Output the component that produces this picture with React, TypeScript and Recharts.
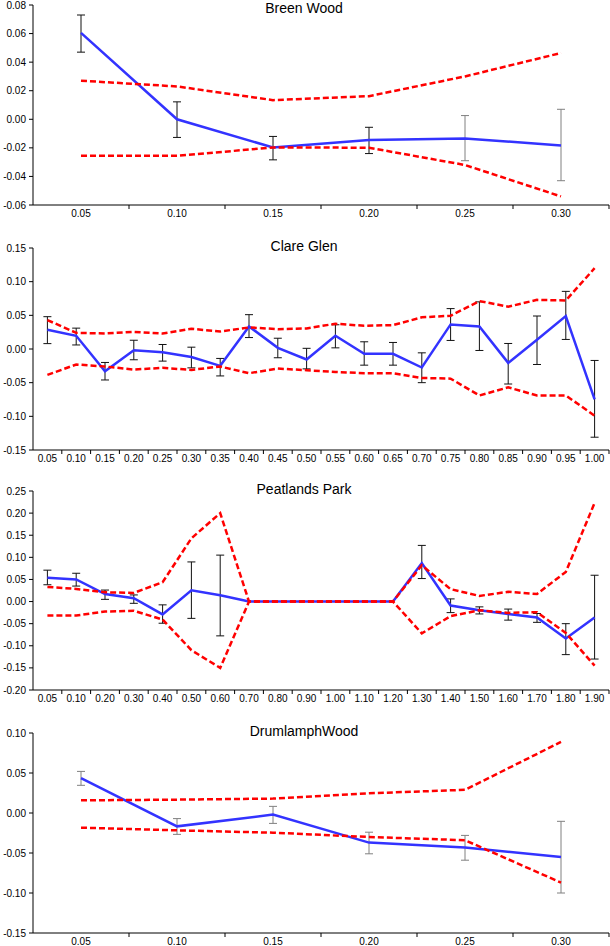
import React from 'react';
import { LineChart, Line, XAxis, YAxis, ErrorBar } from 'recharts';

// Breen Wood
const breenCats = ['0.05', '0.10', '0.15', '0.20', '0.25', '0.30'];
const breenMean = [0.0605, 0.0, -0.0197, -0.0145, -0.0134, -0.0183];
const breenErrLow = [0.047, -0.0127, -0.0284, -0.024, -0.029, -0.043];
const breenErrHigh = [0.073, 0.0122, -0.012, -0.0056, 0.0026, 0.007];
const breenUpper = [0.027, 0.023, 0.0134, 0.0162, 0.03, 0.0464];
const breenLower = [-0.0256, -0.0256, -0.0197, -0.0199, -0.032, -0.054];
const breenTone = ['k', 'k', 'k', 'k', 'g', 'g'];
const breenYTicks = [-0.06, -0.04, -0.02, 0, 0.02, 0.04, 0.06, 0.08];

// Clare Glen
const clareCats = ['0.05', '0.10', '0.15', '0.20', '0.25', '0.30', '0.35', '0.40', '0.45', '0.50',
  '0.55', '0.60', '0.65', '0.70', '0.75', '0.80', '0.85', '0.90', '0.95', '1.00'];
const clareMean = [0.0285, 0.0196, -0.033, -0.002, -0.005, -0.012, -0.025, 0.0335, 0.0017, -0.0156,
  0.0196, -0.0072, -0.0072, -0.0275, 0.0365, 0.0335, -0.0206, 0.0136, 0.049, -0.0747];
const clareErrLow = [0.008, 0.006, -0.046, -0.016, -0.018, -0.028, -0.04, 0.017, -0.013, -0.0295,
  0.0017, -0.024, -0.024, -0.05, 0.0127, -0.0022, -0.052, -0.023, 0.0142, -0.131];
const clareErrHigh = [0.048, 0.031, -0.02, 0.013, 0.0067, 0.0027, -0.014, 0.051, 0.016, 0.001,
  0.036, 0.0107, 0.0097, -0.0057, 0.06, 0.07, 0.0082, 0.049, 0.0856, -0.017];
const clareUpper = [0.043, 0.024, 0.023, 0.0255, 0.023, 0.03, 0.026, 0.032, 0.0295, 0.0305,
  0.0375, 0.0345, 0.0355, 0.047, 0.0494, 0.0712, 0.0628, 0.073, 0.072, 0.12];
const clareLower = [-0.0385, -0.023, -0.026, -0.0305, -0.028, -0.031, -0.026, -0.036, -0.029, -0.0315,
  -0.034, -0.036, -0.036, -0.043, -0.044, -0.069, -0.057, -0.069, -0.069, -0.099];
const clareTone = clareCats.map(() => 'k');
const clareYTicks = [-0.15, -0.1, -0.05, 0, 0.05, 0.1, 0.15];

// Peatlands Park
const peatCats = ['0.05', '0.10', '0.20', '0.30', '0.40', '0.50', '0.60', '0.70', '0.80', '0.90',
  '1.00', '1.10', '1.20', '1.30', '1.40', '1.50', '1.60', '1.70', '1.80', '1.90'];
const peatMean = [0.054, 0.05, 0.017, 0.0075, -0.029, 0.0256, 0.0143, 0, 0, 0,
  0, 0, 0, 0.087, -0.009, -0.0196, -0.028, -0.036, -0.0836, -0.036];
const peatErrLow = [0.038, 0.035, 0.005, -0.004, -0.049, -0.038, -0.0776, null, null, null,
  null, null, null, 0.052, -0.025, -0.028, -0.042, -0.047, -0.12, -0.13];
const peatErrHigh = [0.071, 0.064, 0.026, 0.015, -0.0075, 0.0896, 0.105, null, null, null,
  null, null, null, 0.127, 0.006, -0.012, -0.017, -0.027, -0.05, 0.0595];
const peatUpper = [0.033, 0.0286, 0.021, 0.0196, 0.0437, 0.143, 0.2, 0, 0, 0,
  0, 0, 0, 0.082, 0.028, 0.0128, 0.022, 0.017, 0.067, 0.223];
const peatLower = [-0.0316, -0.0316, -0.0226, -0.021, -0.0407, -0.11, -0.15, 0, 0, 0,
  0, 0, 0, -0.072, -0.033, -0.0196, -0.0256, -0.024, -0.0708, -0.145];
const peatTone = peatCats.map(() => 'k');
const peatYTicks = [-0.2, -0.15, -0.1, -0.05, 0, 0.05, 0.1, 0.15, 0.2, 0.25];

// Drumlamph Wood
const drumCats = ['0.05', '0.10', '0.15', '0.20', '0.25', '0.30'];
const drumMean = [0.0437, -0.0167, -0.002, -0.037, -0.043, -0.055];
const drumErrLow = [0.0346, -0.0267, -0.013, -0.051, -0.059, -0.1];
const drumErrHigh = [0.052, -0.007, 0.0083, -0.024, -0.028, -0.0104];
const drumUpper = [0.0158, 0.0167, 0.018, 0.0246, 0.029, 0.0888];
const drumLower = [-0.0183, -0.0217, -0.0246, -0.03, -0.034, -0.087];
const drumTone = drumCats.map(() => 'g');
const drumYTicks = [-0.15, -0.1, -0.05, 0, 0.05, 0.1];

const FONT = 'Arial, "Liberation Sans", sans-serif';
const PLOT_W = 576;

function buildRows(cats, mean, lo, hi, upper, lower, tone) {
  return cats.map((cat, i) => {
    const err = lo[i] == null ? null : [mean[i] - lo[i], hi[i] - mean[i]];
    return {
      cat,
      mean: mean[i],
      upper: upper[i],
      lower: lower[i],
      errDark: tone[i] === 'k' ? err : null,
      errGrey: tone[i] === 'g' ? err : null,
    };
  });
}

function Panel({ top, plotH, title, titleTop = 3, rows, yTicks }) {
  const band = PLOT_W / rows.length;
  const renderTick = (props) => {
    const { x, y, payload } = props;
    return (
      <g>
        <line x1={x + band / 2} x2={x + band / 2} y1={y} y2={y + 4} stroke="#000" />
        <text x={x} y={y + 11.5} textAnchor="middle" fontSize={10} fill="#000" fontFamily={FONT}>
          {payload.value}
        </text>
      </g>
    );
  };
  return (
    <div style={{ position: 'absolute', left: 0, top, width: 610, height: plotH + 20 }}>
      <LineChart width={610} height={plotH + 20} data={rows} margin={{ top: 5, right: 1, bottom: 0, left: 0 }}>
        <XAxis
          dataKey="cat"
          scale="band"
          interval={0}
          tickSize={0}
          tickMargin={0}
          tickLine={false}
          tick={renderTick}
          stroke="#000"
          height={15}
        />
        <YAxis
          type="number"
          domain={[yTicks[0], yTicks[yTicks.length - 1]]}
          ticks={yTicks}
          interval={0}
          allowDataOverflow
          width={33}
          tickSize={4}
          tickMargin={3}
          tickFormatter={(v) => v.toFixed(2)}
          stroke="#000"
          tick={{ fill: '#000', fontSize: 10, fontFamily: FONT }}
        />
        <Line type="linear" dataKey="mean" stroke="#3333ff" strokeWidth={2.5} dot={false} activeDot={false} isAnimationActive={false}>
          <ErrorBar dataKey="errDark" direction="y" width={4} stroke="#111" strokeWidth={1} />
          <ErrorBar dataKey="errGrey" direction="y" width={4} stroke="#808080" strokeWidth={1} />
        </Line>
        <Line type="linear" dataKey="upper" stroke="#ff0000" strokeWidth={2.5} strokeDasharray="6 3" dot={false} activeDot={false} isAnimationActive={false} />
        <Line type="linear" dataKey="lower" stroke="#ff0000" strokeWidth={2.5} strokeDasharray="6 3" dot={false} activeDot={false} isAnimationActive={false} />
      </LineChart>
      <div
        style={{
          position: 'absolute',
          left: 304,
          top: titleTop,
          transform: 'translate(-50%, -50%)',
          fontFamily: FONT,
          fontSize: 14,
          lineHeight: 1,
          whiteSpace: 'nowrap',
          color: '#000',
        }}
      >
        {title}
      </div>
    </div>
  );
}

export default function App() {
  const breen = buildRows(breenCats, breenMean, breenErrLow, breenErrHigh, breenUpper, breenLower, breenTone);
  const clare = buildRows(clareCats, clareMean, clareErrLow, clareErrHigh, clareUpper, clareLower, clareTone);
  const peat = buildRows(peatCats, peatMean, peatErrLow, peatErrHigh, peatUpper, peatLower, peatTone);
  const drum = buildRows(drumCats, drumMean, drumErrLow, drumErrHigh, drumUpper, drumLower, drumTone);

  return (
    <div style={{ position: 'absolute', left: 0, top: 0, width: 610, height: 946, overflow: 'hidden', background: '#fff' }}>
      <Panel top={0} plotH={200} title="Breen Wood" titleTop={8} rows={breen} yTicks={breenYTicks} />
      <Panel top={243} plotH={202} title="Clare Glen" rows={clare} yTicks={clareYTicks} />
      <Panel top={486} plotH={199} title="Peatlands Park" rows={peat} yTicks={peatYTicks} />
      <Panel top={728} plotH={200} title="DrumlamphWood" rows={drum} yTicks={drumYTicks} />
    </div>
  );
}
